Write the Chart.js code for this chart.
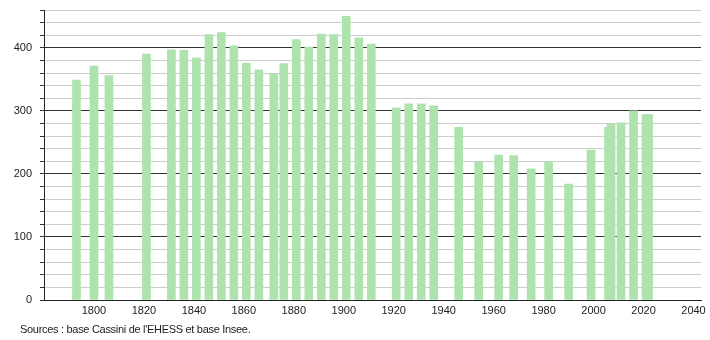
<!DOCTYPE html>
<html>
<head>
<meta charset="utf-8">
<script src="https://cdn.jsdelivr.net/npm/chart.js@4"></script>
<style>
  body { margin: 0; background: #fff; }
  .wrap { position: relative; width: 710px; height: 340px; }
  .source { position: absolute; left: 20px; top: 323px; font: 11px "Liberation Sans", Arial, sans-serif; letter-spacing: -0.3px; color: #222; }
</style>
</head>
<body>
<div class="wrap">
  <canvas id="myChart" width="710" height="340"></canvas>
  <div class="source">Sources : base Cassini de l'EHESS et base Insee.</div>
</div>
<script>
// census years and population
const years = [1793, 1800, 1806, 1821, 1831, 1836, 1841, 1846, 1851, 1856, 1861, 1866, 1872, 1876, 1881, 1886, 1891, 1896, 1901, 1906, 1911, 1921, 1926, 1931, 1936, 1946, 1954, 1962, 1968, 1975, 1982, 1990, 1999, 2006, 2007, 2011, 2016, 2021, 2022];
const population = [349, 371, 356, 390, 397, 396, 384, 421, 424, 403, 376, 365, 358, 375, 413, 401, 422, 421, 450, 416, 406, 305, 311, 311, 308, 274, 219, 230, 229, 208, 219, 184, 238, 274, 279, 281, 300, 294, 294];
const xTicks = [1800, 1820, 1840, 1860, 1880, 1900, 1920, 1940, 1960, 1980, 2000, 2020, 2040];

const font = { family: '"Liberation Sans", Arial, sans-serif', size: 11 };

const ctx = document.getElementById('myChart').getContext('2d');
new Chart(ctx, {
  type: 'bar',
  data: {
    datasets: [{
      data: years.map((y, i) => ({ x: y, y: population[i] })),
      backgroundColor: '#aee3ae',
      barThickness: 8,
    }],
  },
  options: {
    responsive: false,
    animation: false,
    layout: { padding: { top: 10, right: 9, left: 0, bottom: 0 } },
    plugins: { legend: { display: false }, tooltip: { enabled: false } },
    scales: {
      x: {
        type: 'linear',
        min: 1780,
        max: 2043,
        offset: false,
        grid: { display: false, drawTicks: false },
        border: { color: '#222' },
        afterBuildTicks: axis => { axis.ticks = xTicks.map(v => ({ value: v })); },
        afterFit: scale => { scale.height = 40; scale.paddingLeft = 0; scale.paddingRight = 0; },
        ticks: { color: '#222', font: font, padding: 4, maxRotation: 0, autoSkip: false, callback: v => String(v) },
      },
      y: {
        min: 0,
        max: 460,
        grid: {
          color: c => c.tick && c.tick.value % 100 === 0 ? '#333' : '#ccc',
          tickColor: '#333',
          tickLength: 4,
        },
        border: { color: '#222' },
        afterFit: scale => { scale.width = 44; scale.paddingTop = 0; scale.paddingBottom = 0; },
        ticks: {
          stepSize: 20,
          autoSkip: false,
          color: '#222',
          font: font,
          padding: 8,
          callback: v => v % 100 === 0 ? String(v) : '',
        },
      },
    },
  },
});
</script>
</body>
</html>
